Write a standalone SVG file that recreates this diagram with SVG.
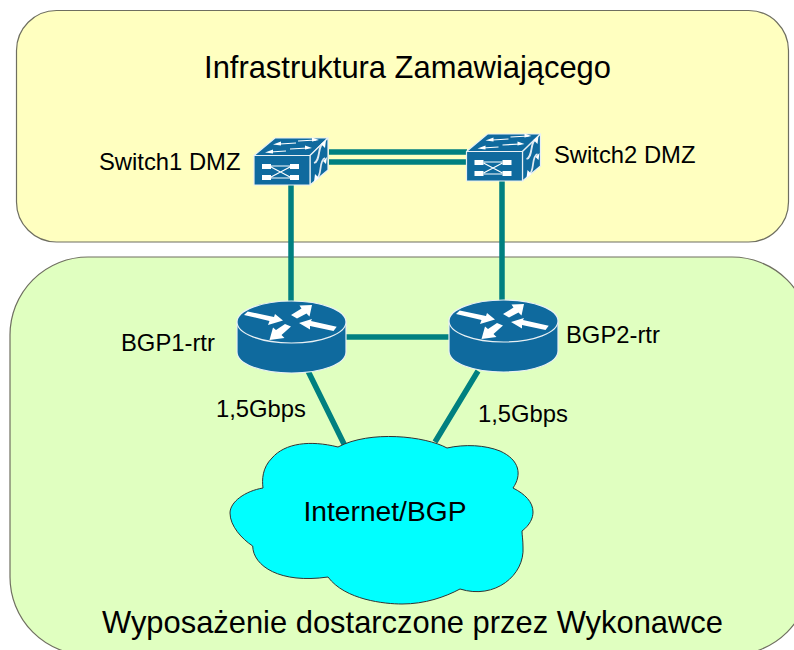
<svg xmlns="http://www.w3.org/2000/svg" width="794" height="650" viewBox="0 0 794 650">
<style>
text{font-family:"Liberation Sans",Arial,sans-serif;fill:#000}
.area{stroke:#6f6f60;stroke-width:1.2}
.link{stroke:#008080;stroke-width:5.500;fill:none}
.edge{fill:#0f6a9e;stroke:#e8f0f4;stroke-width:1.2;stroke-linejoin:round}
.w{fill:#fff}
.wl{stroke:#fff;stroke-width:1.2;fill:none}
.wt{stroke:#dfeaf2;stroke-width:1.800;fill:none}
.t1{font-size:23.800px}
.t2{font-size:30.900px}
.t3{font-size:28.200px}
</style>
<defs>
<g id="sw">
<path class="edge" d="M254 155.500L275 138H328L310 155.500Z"/>
<path class="edge" d="M310 155.500L328 138V170L310 185Z"/>
<rect class="edge" x="254" y="155.500" width="56" height="29.500"/>
<path class="w" d="M262 164h9v5h-9zM262 175h9v5h-9zM290 164h9v5h-9zM290 175h9v5h-9z"/>
<path class="wl" d="M271 166H290M271 178H290M271 167L290 177M271 177L290 167"/>
<path class="wt" d="M314 163c7-2 3-18 10-20M316 179c7-3 2-18 9-21"/>
<path class="w" d="M326 140l-1 8-4-4zM314 182l1-8 4 4zM327 157l-1 7-3-3z"/>
<path class="wl" d="M280 144l16-1M298 141l18-1M270 152l16-1M290 149l18-1"/>
<path class="w" d="M273 144.500l8-3v4zM319 140l-7-2.500v4zM265 152.500l8-3v4zM312 148l-7-2.500v4z"/>
</g>
<g id="rt">
<path class="edge" d="M237 322V352C237 364 261 373 291.500 373S346 364 346 352V322Z"/>
<ellipse class="edge" cx="291.500" cy="322" rx="54.500" ry="21"/>
<path class="w" d="M244 315L247.700 311.500L274 317L275 314L283 320.500L268 325L269.500 321Z"/>
<path class="w" d="M291 315L301.500 308.500L299.500 305.500L312 305L309.500 316.500L306.500 313.500L297 318.500Z"/>
<path class="w" d="M336.700 326.700L333.500 331L310 326L310 329.500L299 323L312 319L311 321Z"/>
<path class="w" d="M269.500 340L273 327.500L276 330L285 324L291 326.500L281.500 335L284.500 338Z"/>
</g>
</defs>
<g id="area-customer"><rect class="area" x="16.500" y="10.500" width="772" height="231.500" rx="40" ry="40" fill="#ffffc0"/><text class="t2" x="407.500" y="78" text-anchor="middle">Infrastruktura Zamawiającego</text></g>
<g id="area-contractor"><rect class="area" x="10" y="257" width="800" height="398" rx="78" ry="78" fill="#e0ffc0"/><text class="t2" x="412.500" y="633" text-anchor="middle">Wyposażenie dostarczone przez Wykonawce</text></g>
<g id="connectors">
<path class="link" d="M329 152H467M329 162H467"/>
<path class="link" d="M291 185V303M502 181V303M346 337H449M308 371L345 446M478 371L435 442"/>
</g>
<g id="switch1"><use href="#sw"/><text class="t1" x="99" y="170">Switch1 DMZ</text></g>
<g id="switch2"><use href="#sw" x="212.500" y="-4"/><text class="t1" x="554" y="163">Switch2 DMZ</text></g>
<g id="router1"><use href="#rt"/><text class="t1" x="121" y="351">BGP1-rtr</text></g>
<g id="router2"><use href="#rt" x="212" y="-1"/><text class="t1" x="566" y="343">BGP2-rtr</text></g>
<g id="cloud"><path d="M338 447C310 440 285 443 272 458C262 468 262 480 263 488C245 491 230 502 230 513C230 526 242 539 252.700 546C253 566 280 584 328 577C345 600 385 604 402 604C425 604 445 597 460 589C495 600 525 575 523 547C523 540 522 535 522 531C530 525 533 518 533 512C533 502 525 494 513 488C522 475 520 460 500 451C485 445 465 444 447 448C425 436 370 430 338 447Z" fill="#00ffff" stroke="#333" stroke-width="1"/><text class="t3" x="385" y="521" text-anchor="middle">Internet/BGP</text></g>
<g id="labels"><text class="t1" x="216" y="417">1,5Gbps</text><text class="t1" x="478" y="422">1,5Gbps</text></g>
</svg>
